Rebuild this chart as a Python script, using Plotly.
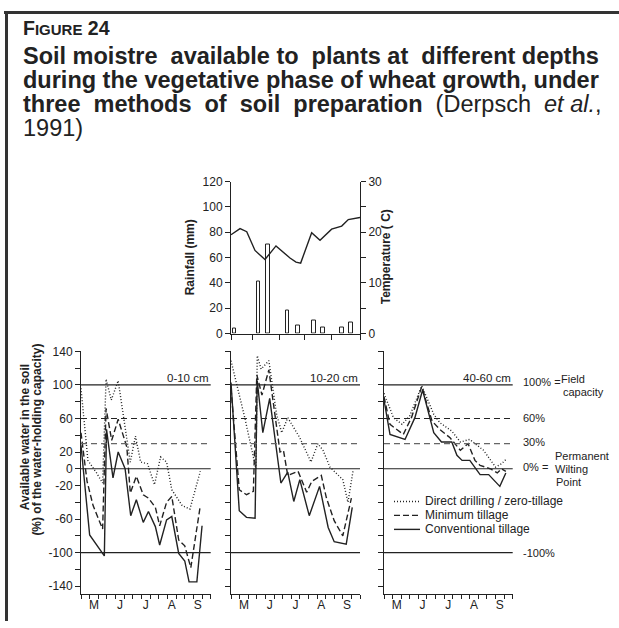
import plotly.graph_objects as go

W, H = 619, 628

# ---------------- data ----------------
# top chart: rainfall bars (mm) and air temperature (C); x = days from start of record
rain_days = [4, 32, 43, 66, 78, 96.5, 107, 129, 139.5]
rain_mm = [4, 41, 70, 18, 6, 10, 5, 5, 9]
temp_days = [0, 10.5, 18.3, 27.9, 39.5, 52.3, 68.6, 75.6, 81, 93.8, 103.5, 117, 128.7, 136.4, 150]
temp_c = [19.5, 20.7, 20.1, 16.4, 14.6, 17.3, 14.9, 14.1, 13.9, 19.9, 18.4, 20.6, 21.2, 22.5, 22.9]
rain_xticks = [0, 25, 56, 86, 117, 150]
rain_yticks = [0, 20, 40, 60, 80, 100, 120]
temp_yticks = [0, 5, 10, 15, 20, 25, 30]
temp_yticktext = ["0", "", "10", "", "20", "", "30"]

# bottom panels: available water (% of water-holding capacity); x = days from 1 May
month_labels = ["M", "J", "J", "A", "S"]
month_centers = [15, 45, 75, 105, 135]
dekad_ticks = list(range(0, 151, 10))
soil_yticks = list(range(-140, 141, 20))
soil_yticktext = ["-140", "", "-100", "", "-60", "", "-20", "0", "20", "", "60", "", "100", "", "140"]
depth_labels = ["0-10 cm", "10-20 cm", "40-60 cm"]
series_names = ["Direct drilling / zero-tillage", "Minimum tillage", "Conventional tillage"]

# 0-10 cm
p1_zero_x = [0, 8, 18, 25, 29, 35, 43, 53, 57, 63, 69, 77, 85, 92, 99, 105, 117, 126, 138]
p1_zero_y = [96, 10, -5, -17, 107, 82, 105, 33, 8, 39, 8, 6, -19, 14, 8, -25, -44, -48, -3]
p1_min_x = [0, 7, 14, 23, 25, 29, 35.5, 43, 53, 57, 64, 72, 78, 86, 91, 99, 105, 113, 120, 127, 138]
p1_min_y = [43, -15, -44, -68, -72, 72, 34, 59, 26, -29, -9, -31, -35, -46, -68, -40, -33, -85, -92, -118, -44]
p1_conv_x = [0, 10, 27, 29.5, 37, 43, 51, 57.5, 64, 72, 78, 86, 91, 99, 105, 113, 120, 125, 134, 140]
p1_conv_y = [28, -79, -104, 47, -11, 20, 0, -56, -37, -64, -51, -69, -91, -61, -57, -101, -110, -135, -135, -68]

# 10-20 cm
p2_zero_x = [0, 16, 29, 30.5, 35, 44, 53, 59, 66, 80, 93, 101, 107, 115, 130, 136, 142]
p2_zero_y = [129, 61, 0, 135, 119, 129, 65, 43, 61, 37, 8, 30, 22, 2, -13, -40, -2]
p2_min_x = [0, 9.6, 18, 26, 30, 36, 44, 57, 61, 66, 78, 88, 94, 105, 111, 120, 130, 140]
p2_min_y = [96, -25, -31, -27, 112, 88, 118, 20, 22, -8, -3, -28, -15, -8, -35, -62, -80, -35]
p2_conv_x = [0, 9.6, 18, 28, 30.5, 37, 45, 58, 66, 73, 80, 91, 103, 113, 120, 134, 141]
p2_conv_y = [103, -50, -58, -59, 105, 43, 84, -17, -4, -39, -13, -56, -21, -70, -87, -90, -46]

# 40-60 cm
p3_zero_x = [0, 11, 21, 30, 44, 58, 65, 79, 89, 100, 116, 130, 137, 143]
p3_zero_y = [90, 61, 53, 63, 99, 65, 55, 45, 32, 35, 22, 2, 6, 12]
p3_min_x = [0, 7, 22.5, 32, 44, 56, 65, 77, 89, 98, 106, 112, 124, 132, 137, 142]
p3_min_y = [86, 53, 41, 61, 98, 57, 47, 37, 22, 30, 10, 4, 0, -5, 0, -3]
p3_conv_x = [0, 7, 24.5, 36, 45, 58, 67, 79, 85, 91, 100, 112, 122, 135, 142]
p3_conv_y = [82, 41, 35, 61, 94, 43, 32, 32, 16, 10, 10, -7, -7, -21, -5]

ref_levels = [100, 60, 30, 0, -100]

# ---------------- styling helpers ----------------
NARROW = "Liberation Sans Narrow, Arial Narrow, Liberation Sans, Arial, sans-serif"
SANS = "Liberation Sans, Arial, Helvetica, sans-serif"
INK = "#222222"


def px(x):
    return x / W


def py(y):
    return 1 - y / H


fig = go.Figure()

# top chart
fig.add_trace(go.Bar(x=rain_days, y=rain_mm, width=4, xaxis="x", yaxis="y",
                     marker=dict(color="white", line=dict(color=INK, width=1)),
                     showlegend=False))
fig.add_trace(go.Scatter(x=temp_days, y=temp_c, xaxis="x", yaxis="y2", mode="lines",
                         line=dict(color=INK, width=1.4), showlegend=False))

panels = [
    (p1_zero_x, p1_zero_y, p1_min_x, p1_min_y, p1_conv_x, p1_conv_y),
    (p2_zero_x, p2_zero_y, p2_min_x, p2_min_y, p2_conv_x, p2_conv_y),
    (p3_zero_x, p3_zero_y, p3_min_x, p3_min_y, p3_conv_x, p3_conv_y),
]
dashes = ["1px,2px", "6px,3px", "solid"]
for i, pdata in enumerate(panels):
    xa = "x%d" % (i + 2)
    ya = "y%d" % (i + 3)
    for k in range(3):
        fig.add_trace(go.Scatter(x=pdata[2 * k], y=pdata[2 * k + 1], xaxis=xa, yaxis=ya,
                                 mode="lines", name=series_names[k],
                                 line=dict(color=INK, width=1.4, dash=dashes[k]),
                                 showlegend=False))

axis_common = dict(showgrid=False, zeroline=False, showline=True, linecolor=INK, linewidth=1,
                   tickcolor=INK, tickfont=dict(family=NARROW, size=12, color=INK))

layout = dict(
    width=W, height=H, margin=dict(l=0, r=0, t=0, b=0),
    paper_bgcolor="white", plot_bgcolor="rgba(0,0,0,0)", showlegend=False,
    bargap=0,
    xaxis=dict(domain=[px(231), px(360)], range=[0, 150], anchor="y",
               tickvals=rain_xticks, ticktext=[""] * len(rain_xticks), ticks="outside", ticklen=5,
               **axis_common),
    yaxis=dict(domain=[py(334), py(178.5)], range=[0, 120], anchor="x",
               tickvals=rain_yticks, ticks="outside", ticklen=5, **axis_common),
    yaxis2=dict(range=[0, 30], overlaying="y", side="right", anchor="x",
                tickvals=temp_yticks, ticktext=temp_yticktext, ticks="outside", ticklen=5,
                **axis_common),
)

xdoms = [[px(81), px(210.7)], [px(231), px(360)], [px(384), px(512.7)]]
ydom = [py(600), py(352.3)]
for i in range(3):
    layout["xaxis%d" % (i + 2)] = dict(
        domain=xdoms[i], range=[0, 150], anchor="y%d" % (i + 3),
        tickvals=month_centers, ticktext=month_labels, ticks="",
        minor=dict(tickvals=dekad_ticks, ticks="outside", ticklen=4, tickcolor=INK, tickwidth=1),
        **axis_common)
    layout["yaxis%d" % (i + 3)] = dict(
        domain=ydom, range=[-149, 140], anchor="x%d" % (i + 2),
        tickvals=soil_yticks, ticktext=soil_yticktext, ticks="outside", ticklen=5,
        showticklabels=(i == 0), **axis_common)

fig.update_layout(**layout)

shapes = []
# reference lines across each panel
for i in range(3):
    for lev in ref_levels:
        if lev == 60:
            dash, col = "6px,4px", INK
        elif lev == 30:
            dash, col = "6px,4px", "#666666"
        else:
            dash, col = "solid", INK
        shapes.append(dict(type="line", xref="x%d domain" % (i + 2), yref="y%d" % (i + 3),
                           x0=0, x1=1, y0=lev, y1=lev, line=dict(color=col, width=1.2, dash=dash)))
# frame
shapes.append(dict(type="line", xref="paper", yref="paper", x0=px(4), x1=1, y0=py(5.5), y1=py(5.5),
                   line=dict(color="#333333", width=3)))
shapes.append(dict(type="line", xref="paper", yref="paper", x0=px(6.5), x1=px(6.5), y0=py(4), y1=0,
                   line=dict(color="#333333", width=3)))
# legend samples
leg_y = [505.7, 520, 534.3]
for k in range(3):
    shapes.append(dict(type="line", xref="paper", yref="paper", x0=px(394), x1=px(420),
                       y0=py(leg_y[k]), y1=py(leg_y[k]),
                       line=dict(color=INK, width=1.4, dash=dashes[k])))

annotations = []


def note(text, x, y, size=12, family=NARROW, xanchor="left", yanchor="middle", angle=0, color=INK):
    annotations.append(dict(text=text, x=px(x), y=py(y), xref="paper", yref="paper",
                            xanchor=xanchor, yanchor=yanchor, showarrow=False, textangle=angle,
                            font=dict(size=size, family=family, color=color)))


# title block (justified by widening some word gaps with no-break spaces)
NB = "\u00a0"


def spread(words, extra):
    out = ""
    for n, w in enumerate(words):
        out += w
        if n < len(words) - 1:
            out += " " + (NB * extra.get(n, 0))
    return out


note("<b>F<span style='font-size:15px'>IGURE</span> 24</b>", 21, 21, size=19.5, family=SANS)
line1 = spread("Soil moistre available to plants at different depths".split(" "), {1: 1, 3: 1, 5: 1})
line2 = spread("during the vegetative phase of wheat growth, under".split(" "), {})
line3 = spread("three methods of soil preparation".split(" "), {0: 1, 1: 1, 2: 1, 3: 1})
title_lines = [
    "<b>" + line1 + "</b>",
    "<b>" + line2 + "</b>",
    "<b>" + line3 + "</b>" + " " + NB + "(Derpsch " + NB + "<i>et al.</i>,",
    "1991)",
]
for j, t in enumerate(title_lines):
    note(t, 21, 50.5 + 24.5 * j, size=23.5, family=SANS)

# depth labels
for i, lab in enumerate(depth_labels):
    note(lab, [210.7, 360, 512.7][i], 379, size=11.5, xanchor="right")

# right-hand labels
RS = 11
note("100% =", 521, 383.5, size=RS)
note("Field", 559, 380, size=RS)
note("capacity", 561, 394, size=RS)
note("60%", 521, 420, size=RS)
note("30%", 521, 444.5, size=RS)
note("Permanent", 553, 459, size=RS)
note("0% =", 521, 470.5, size=RS)
note("Wilting", 553, 472.5, size=RS)
note("Point", 554, 485.5, size=RS)
note("-100%", 521, 558.5, size=RS)

# legend text
for k in range(3):
    note(series_names[k], 423, leg_y[k], size=12)

# axis titles
note("<b>Available water in the soil</b>", 25, 440, size=12, angle=-90, xanchor="center")
note("<b>(%) of the water-holding capacity)</b>", 37.5, 443, size=12, angle=-90, xanchor="center")
note("<b>Rainfall (mm)</b>", 190, 256, size=12, angle=-90, xanchor="center")
note("<b>Temperature ( C)</b>", 386, 256, size=12, angle=-90, xanchor="center")

fig.update_layout(shapes=shapes, annotations=annotations)
fig.write_html("out.html", config={"displayModeBar": False},
               post_script="document.body.style.margin='0px';document.body.style.overflow='hidden';")
